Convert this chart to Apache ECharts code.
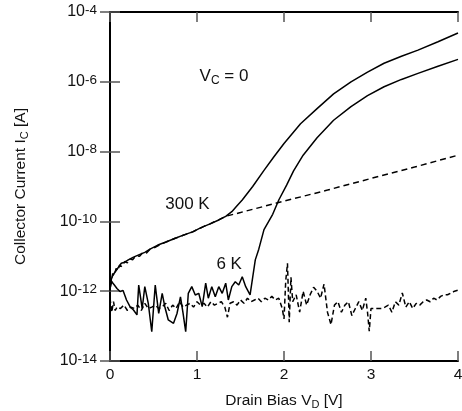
<!DOCTYPE html>
<html><head><meta charset="utf-8">
<script src="https://cdn.jsdelivr.net/npm/echarts@6/dist/echarts.min.js"></script>
<style>html,body{margin:0;padding:0;background:#fff}#c{width:462px;height:411px}</style>
</head><body><div id="c"></div>
<script>
// 300 K, solid
const vd300s = [0, 0.01, 0.03, 0.06, 0.08, 0.10, 0.13, 0.17, 0.21, 0.27, 0.33, 0.40, 0.46, 0.55, 0.65, 0.75, 0.85, 0.95, 1.04, 1.15, 1.25, 1.33, 1.40, 1.46, 1.52, 1.64, 1.77, 1.88, 2.00, 2.19, 2.38, 2.57, 2.77, 2.96, 3.15, 3.35, 3.54, 3.77, 4.00];
const ic300s = [1.3e-12, 2.0e-12, 2.8e-12, 3.6e-12, 3.4e-12, 5.0e-12, 6.3e-12, 6.8e-12, 7.9e-12, 9.5e-12, 1.1e-11, 1.3e-11, 1.6e-11, 2.1e-11, 2.6e-11, 3.3e-11, 4.1e-11, 5.0e-11, 6.5e-11, 8.5e-11, 1.1e-10, 1.4e-10, 1.9e-10, 2.8e-10, 4.1e-10, 1.0e-9, 2.9e-9, 6.9e-9, 1.7e-8, 6.3e-8, 1.7e-7, 4.5e-7, 1.0e-6, 1.9e-6, 3.4e-6, 5.4e-6, 8.1e-6, 1.4e-5, 2.5e-5];
// 300 K, dashed
const vd300d = [0, 0.01, 0.02, 0.03, 0.05, 0.07, 0.09, 0.11, 0.14, 0.17, 0.20, 0.23, 0.26, 0.30, 0.34, 0.38, 0.42, 0.46, 0.50, 0.55, 0.60, 0.65, 0.70, 0.75, 0.80, 0.85, 0.90, 0.95, 1.00, 1.05, 1.10, 1.15, 1.20, 1.25, 1.33, 1.50, 2.00, 2.50, 3.00, 3.50, 4.00];
const ic300d = [1.0e-12, 2.2e-12, 1.8e-12, 3.2e-12, 2.8e-12, 4.5e-12, 3.8e-12, 5.6e-12, 5.0e-12, 7.1e-12, 6.5e-12, 8.5e-12, 8.0e-12, 1.05e-11, 1.0e-11, 1.3e-11, 1.25e-11, 1.6e-11, 1.7e-11, 2.0e-11, 2.3e-11, 2.6e-11, 2.9e-11, 3.3e-11, 3.6e-11, 4.1e-11, 4.5e-11, 5.0e-11, 5.8e-11, 6.6e-11, 7.6e-11, 8.5e-11, 9.8e-11, 1.1e-10, 1.4e-10, 1.8e-10, 3.8e-10, 7.9e-10, 1.7e-9, 3.6e-9, 7.9e-9];
// 6 K, solid
const vd6s = [0, 0.02, 0.05, 0.08, 0.115, 0.15, 0.19, 0.23, 0.27, 0.31, 0.33, 0.37, 0.40, 0.44, 0.48, 0.52, 0.56, 0.60, 0.63, 0.67, 0.73, 0.77, 0.81, 0.84, 0.87, 0.90, 0.94, 0.98, 1.02, 1.06, 1.10, 1.13, 1.17, 1.21, 1.25, 1.29, 1.33, 1.36, 1.40, 1.44, 1.48, 1.52, 1.56, 1.61, 1.64, 1.67, 1.71, 1.77, 1.87, 1.94, 2.03, 2.11, 2.22, 2.38, 2.57, 2.77, 2.96, 3.15, 3.35, 3.54, 3.77, 4.00];
const ic6s = [1.2e-12, 1.86e-12, 1.5e-12, 1.2e-12, 9.8e-13, 1.05e-12, 5.6e-13, 3.6e-13, 2.9e-13, 2.1e-13, 1.5e-12, 3.2e-13, 1.35e-12, 4.5e-13, 6.9e-14, 1.5e-12, 2.3e-13, 8.7e-13, 3.6e-13, 1.5e-13, 1.2e-13, 2.3e-13, 6.9e-13, 2.3e-13, 6.9e-14, 8.7e-13, 1.35e-12, 7.8e-13, 8.7e-13, 3.6e-13, 1.7e-12, 6.3e-13, 1.35e-12, 6.9e-13, 1.35e-12, 8.7e-13, 1.7e-12, 5.6e-13, 1.35e-12, 1.86e-12, 1.5e-12, 2.6e-12, 1.35e-12, 7.9e-13, 2.5e-12, 7.9e-12, 1.6e-11, 5.8e-11, 1.6e-10, 4.1e-10, 1.1e-9, 2.8e-9, 7.9e-9, 2.5e-8, 7.9e-8, 1.95e-7, 4.0e-7, 7.2e-7, 1.17e-6, 1.74e-6, 2.8e-6, 4.4e-6];
// 6 K, dashed
const vd6d = [0, 0.02, 0.04, 0.06, 0.08, 0.12, 0.16, 0.20, 0.24, 0.28, 0.32, 0.36, 0.40, 0.44, 0.48, 0.52, 0.56, 0.60, 0.64, 0.68, 0.72, 0.76, 0.80, 0.84, 0.88, 0.92, 0.96, 1.00, 1.04, 1.08, 1.12, 1.16, 1.20, 1.24, 1.28, 1.32, 1.35, 1.38, 1.42, 1.46, 1.50, 1.54, 1.58, 1.62, 1.66, 1.70, 1.74, 1.78, 1.82, 1.86, 1.90, 1.94, 1.98, 2.00, 2.02, 2.04, 2.06, 2.08, 2.10, 2.14, 2.18, 2.22, 2.26, 2.30, 2.34, 2.38, 2.42, 2.46, 2.50, 2.54, 2.58, 2.62, 2.66, 2.70, 2.74, 2.78, 2.82, 2.86, 2.90, 2.94, 2.96, 2.98, 3.00, 3.04, 3.08, 3.12, 3.16, 3.20, 3.24, 3.28, 3.32, 3.36, 3.40, 3.44, 3.48, 3.52, 3.56, 3.60, 3.64, 3.68, 3.72, 3.76, 3.80, 3.84, 3.88, 3.92, 3.96, 4.00];
const ic6d = [6.3e-13, 2.5e-13, 5.0e-13, 2.8e-13, 3.5e-13, 3.2e-13, 4.0e-13, 2.8e-13, 3.5e-13, 3.2e-13, 4.0e-13, 2.8e-13, 4.5e-13, 3.2e-13, 3.5e-13, 4.0e-13, 3.2e-13, 3.5e-13, 4.5e-13, 2.8e-13, 4.0e-13, 3.2e-13, 5.0e-13, 3.5e-13, 4.0e-13, 4.5e-13, 3.5e-13, 5.0e-13, 4.0e-13, 4.5e-13, 3.5e-13, 5.0e-13, 4.0e-13, 4.5e-13, 5.0e-13, 3.5e-13, 1.8e-13, 4.5e-13, 5.0e-13, 4.0e-13, 5.6e-13, 4.5e-13, 6.3e-13, 5.0e-13, 5.6e-13, 6.3e-13, 5.0e-13, 6.3e-13, 5.6e-13, 7.1e-13, 5.6e-13, 6.3e-13, 3.2e-13, 1.6e-13, 2.0e-12, 6.3e-12, 1.3e-13, 2.5e-12, 5.0e-13, 7.9e-13, 2.5e-13, 1.0e-12, 4.0e-13, 7.9e-13, 1.3e-12, 1.0e-12, 6.3e-13, 1.6e-12, 2.5e-13, 1.1e-13, 4.0e-13, 5.0e-13, 2.5e-13, 4.0e-13, 5.0e-13, 2.0e-13, 3.2e-13, 5.0e-13, 2.8e-13, 6.3e-13, 2.5e-13, 7.1e-14, 3.2e-13, 3.2e-13, 3.2e-13, 3.2e-13, 3.5e-13, 4.0e-13, 2.5e-13, 5.0e-13, 4.0e-13, 8.9e-13, 3.5e-13, 5.0e-13, 3.2e-13, 4.5e-13, 4.0e-13, 5.0e-13, 5.6e-13, 5.0e-13, 6.3e-13, 5.6e-13, 7.1e-13, 7.9e-13, 7.9e-13, 8.9e-13, 1.0e-12, 1.07e-12];

const xTicks = [0, 1, 2, 3, 4];
const yRange = [1e-14, 1e-4];

const FONT = '"Liberation Sans", Arial, Helvetica, sans-serif';
const TXT = '#111';
const zip = (a, b) => a.map((v, i) => [v, b[i]]);

const chart = echarts.init(document.getElementById('c'), null, {renderer: 'canvas'});

const tickStyle = {show: true, inside: true, length: 10, lineStyle: {color: '#555', width: 1.5}};
const lineAxis = {show: true, lineStyle: {color: '#000', width: 2}};

function yLab(v) {
  const e = Math.round(Math.log10(v));
  return '{b|10}{s|' + e + '}';
}

const subRich = {sub: {fontSize: 11, color: TXT, fontFamily: FONT, verticalAlign: 'bottom', padding: [7, 0, 0, 0]}};

const option = {
  animation: false,
  backgroundColor: '#fff',
  grid: {left: 110, right: 4, top: 12, bottom: 50, containLabel: false, outerBoundsMode: 'none'},
  xAxis: [{
    type: 'value', min: xTicks[0], max: xTicks[xTicks.length - 1], interval: 1,
    position: 'bottom',
    axisLine: lineAxis, axisTick: tickStyle, splitLine: {show: false},
    axisLabel: {margin: 6, fontSize: 15.5, color: TXT, fontFamily: FONT},
    name: 'Drain Bias V{sub|D} [V]', nameLocation: 'middle', nameGap: 31,
    nameTextStyle: {fontSize: 15.5, color: TXT, fontFamily: FONT, rich: subRich}
  }, {
    type: 'value', min: xTicks[0], max: xTicks[xTicks.length - 1], interval: 1,
    position: 'top',
    axisLine: lineAxis, axisTick: tickStyle, splitLine: {show: false},
    axisLabel: {show: false}
  }],
  yAxis: [{
    type: 'log', logBase: 10, min: yRange[0], max: yRange[1], interval: 2,
    position: 'left',
    axisLine: lineAxis, axisTick: tickStyle, splitLine: {show: false}, minorTick: {show: false},
    axisLabel: {
      margin: 13, formatter: yLab, fontSize: 16, color: TXT, fontFamily: FONT,
      rich: {
        b: {fontSize: 16, color: TXT, fontFamily: FONT, lineHeight: 18},
        s: {fontSize: 13.5, color: TXT, fontFamily: FONT, verticalAlign: 'top', lineHeight: 12}
      }
    },
    name: 'Collector Current I{sub|C} [A]', nameLocation: 'middle', nameGap: 80, nameRotate: 90,
    nameTextStyle: {fontSize: 15.5, color: TXT, fontFamily: FONT, rich: subRich}
  }, {
    type: 'log', logBase: 10, min: yRange[0], max: yRange[1], interval: 2,
    position: 'right',
    axisLine: lineAxis, axisTick: tickStyle, splitLine: {show: false},
    axisLabel: {show: false}
  }],
  series: [
    {type: 'line', data: zip(vd300s, ic300s), showSymbol: false, symbol: 'none', xAxisIndex: 0, yAxisIndex: 0,
      lineStyle: {color: '#000', width: 1.5}, z: 3},
    {type: 'line', data: zip(vd6s, ic6s), showSymbol: false, symbol: 'none', xAxisIndex: 0, yAxisIndex: 0,
      lineStyle: {color: '#000', width: 1.5}, z: 3},
    {type: 'line', data: zip(vd300d, ic300d), showSymbol: false, symbol: 'none', xAxisIndex: 0, yAxisIndex: 0,
      lineStyle: {color: '#000', width: 1.5, type: [6, 4]}, z: 4},
    {type: 'line', data: zip(vd6d, ic6d), showSymbol: false, symbol: 'none', xAxisIndex: 0, yAxisIndex: 0,
      lineStyle: {color: '#000', width: 1.5, type: [5, 3]}, z: 4}
  ]
};
chart.setOption(option);

// Annotations placed at data coordinates
const notes = [
  {x: 1.03, y: 1.4e-6, text: 'V{sub|C} = 0', align: 'left'},
  {x: 0.89, y: 3.0e-10, text: '300 K', align: 'center'},
  {x: 1.37, y: 6.0e-12, text: '6 K', align: 'center'}
];
chart.setOption({
  graphic: notes.map(n => {
    const p = chart.convertToPixel({xAxisIndex: 0, yAxisIndex: 0}, [n.x, n.y]);
    return {
      type: 'text', x: p[0], y: p[1], z: 10,
      style: {
        text: n.text, fill: TXT, fontSize: 17, fontFamily: FONT,
        align: n.align, verticalAlign: 'middle',
        rich: {sub: {fontSize: 12, fill: TXT, fontFamily: FONT, verticalAlign: 'bottom', padding: [7, 0, 0, 0]}}
      }
    };
  })
});
</script>
</body></html>
